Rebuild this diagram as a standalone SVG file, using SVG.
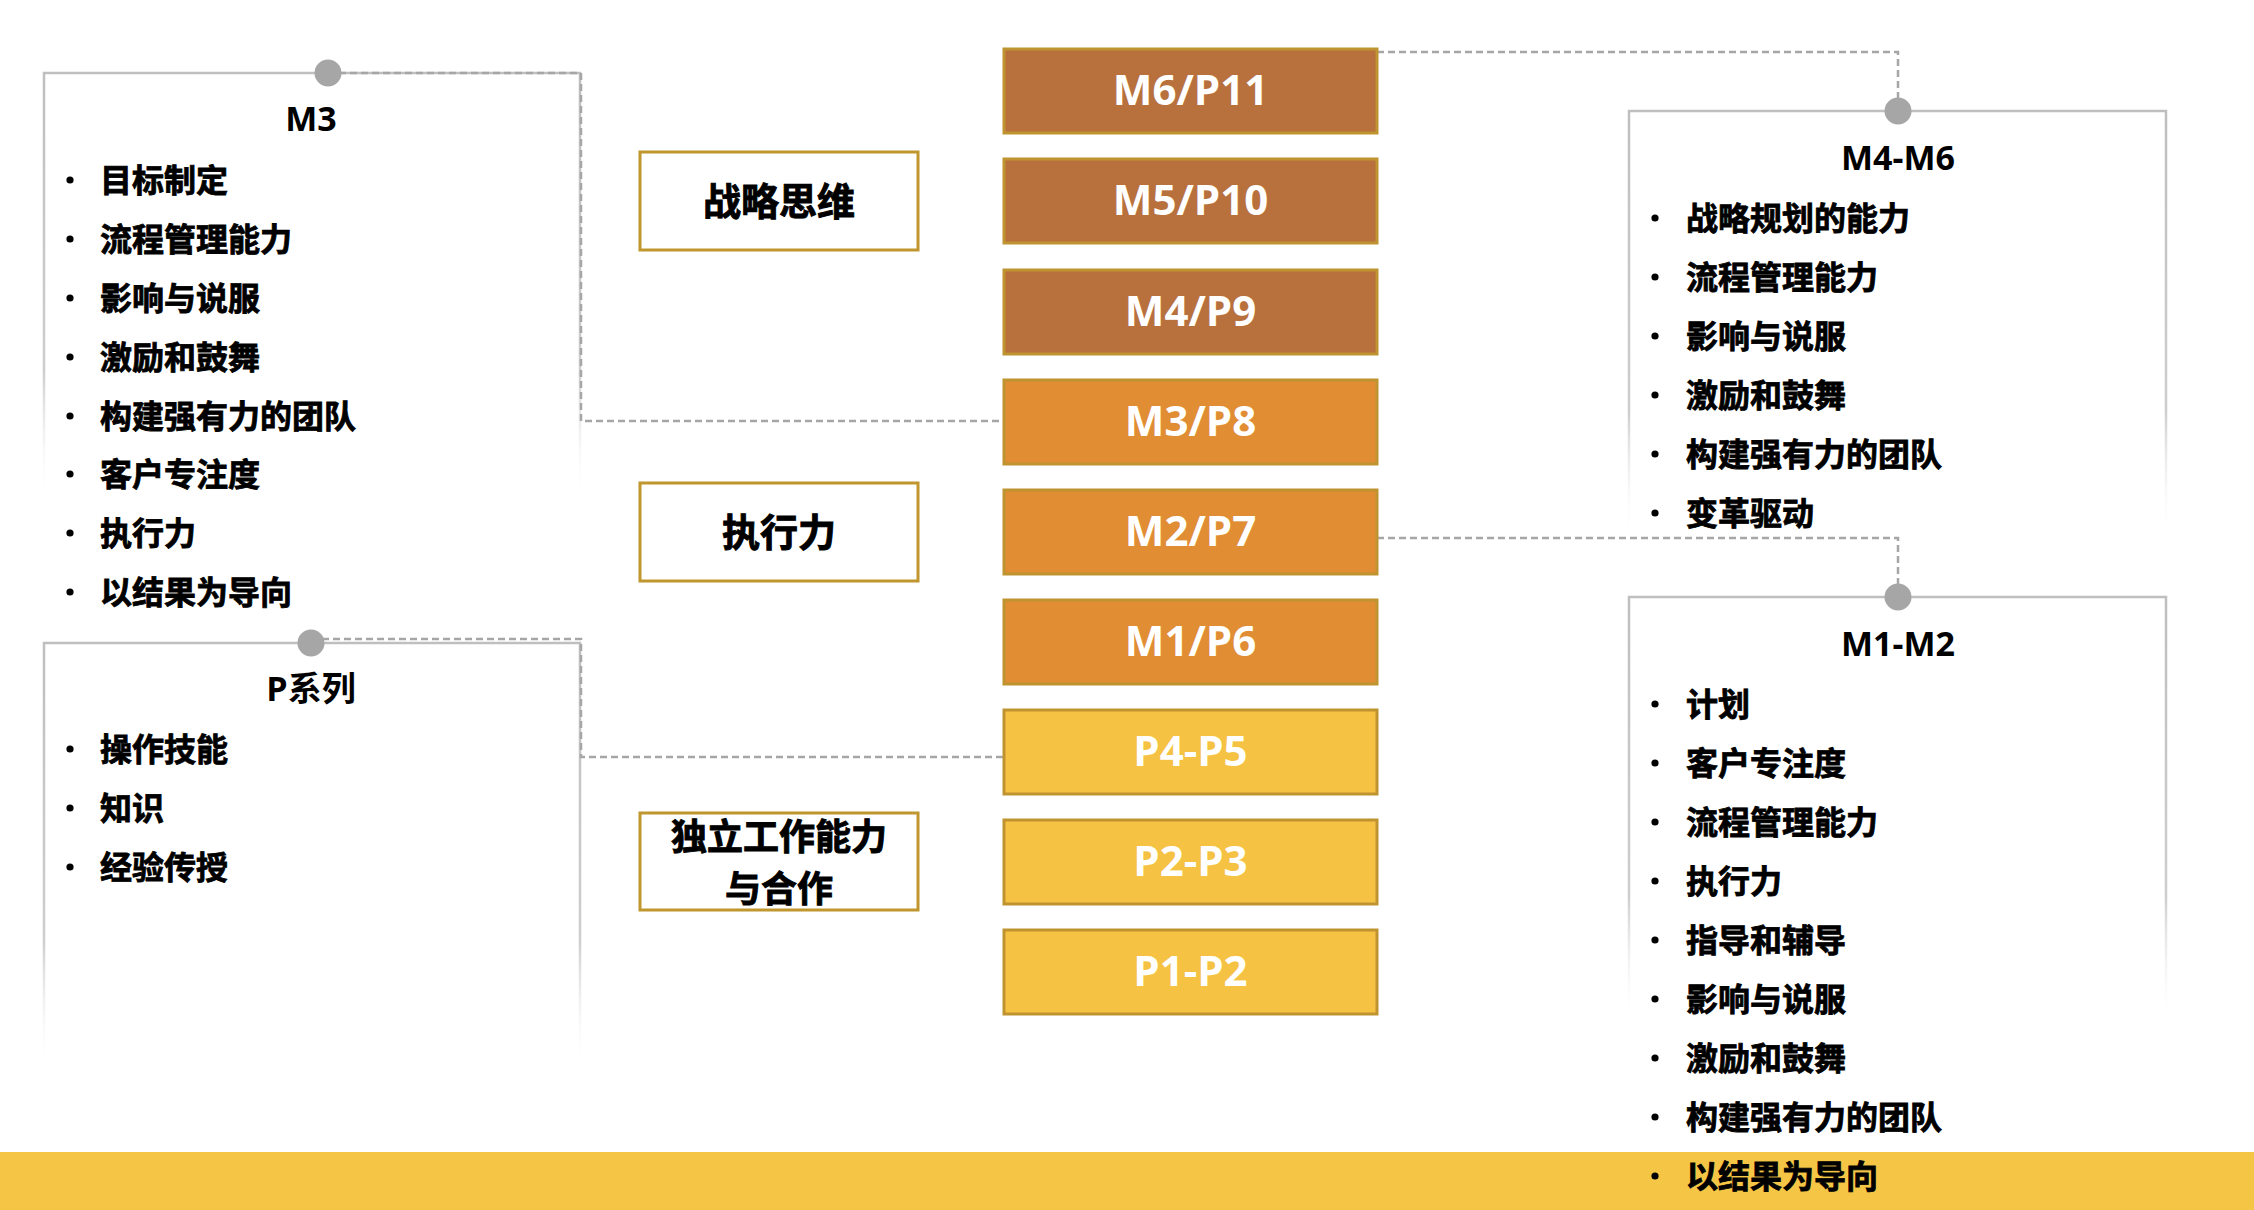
<svg xmlns="http://www.w3.org/2000/svg" width="2254" height="1210" viewBox="0 0 2254 1210">
  <defs>
    <linearGradient id="fade" x1="0" y1="0" x2="0" y2="1">
      <stop offset="0" stop-color="#BFBFBF" stop-opacity="1"/>
      <stop offset="0.7" stop-color="#C8C8C8" stop-opacity="0.9"/>
      <stop offset="1" stop-color="#FFFFFF" stop-opacity="0"/>
    </linearGradient>
    <style>
      .frame { fill: none; stroke: url(#fade); stroke-width: 2.5; }
      .dot { fill: #A6A6A6; }
      .conn { fill: none; stroke: #A6A6A6; stroke-width: 2.5; stroke-dasharray: 7 4; }
      .lvl { stroke: #BF9430; stroke-width: 3; }
      .brown { fill: #B8713D; }
      .orange { fill: #E08D34; }
      .yellow { fill: #F5C243; }
      .lvltext { font-family: "Open Sans", "Noto Sans CJK SC", sans-serif; font-weight: 700; font-size: 42px; fill: #FFFFFF; text-anchor: middle; }
      .cat { fill: #FFFFFF; stroke: #C0962E; stroke-width: 3; }
      .cattext { font-family: "Noto Sans CJK SC", sans-serif; font-weight: 700; font-size: 38px; fill: #000000; stroke: #000000; stroke-width: 0.9; text-anchor: middle; }
      .cattext2 { font-family: "Noto Sans CJK SC", sans-serif; font-weight: 700; font-size: 36px; fill: #000000; stroke: #000000; stroke-width: 0.9; text-anchor: middle; }
      .title { font-family: "Open Sans", "Noto Sans CJK SC", sans-serif; font-weight: 700; font-size: 34px; fill: #000000; text-anchor: middle; }
      .item { font-family: "Noto Sans CJK SC", sans-serif; font-weight: 700; font-size: 32px; fill: #000000; stroke: #000000; stroke-width: 0.8; }
      .bullet { fill: #000000; }
    </style>
  </defs>

  <rect x="0" y="0" width="2254" height="1210" fill="#FFFFFF"/>
  <rect id="band" x="0" y="1152" width="2254" height="58" fill="#F5C646"/>

  <!-- Frames (fading borders) -->
  <g id="frame-m3">
    <path class="frame" d="M44,500 L44,73 L580,73 L580,500"/>
  </g>
  <g id="frame-p">
    <path class="frame" d="M44,1070 L44,643 L580,643 L580,1070"/>
  </g>
  <g id="frame-m4m6">
    <path class="frame" d="M1629,540 L1629,111 L2166,111 L2166,540"/>
  </g>
  <g id="frame-m1m2">
    <path class="frame" d="M1629,1025 L1629,597 L2166,597 L2166,1025"/>
  </g>

  <!-- Connectors -->
  <g id="connectors">
    <path class="conn" d="M328,73 L581,73 L581,421 L1003,421"/>
    <path class="conn" d="M311,639 L581,639 L581,757 L1003,757"/>
    <path class="conn" d="M1377,52 L1898,52 L1898,111"/>
    <path class="conn" d="M1377,538 L1898,538 L1898,597"/>
  </g>

  <!-- Connector end dots -->
  <circle class="dot" cx="328" cy="73" r="13.5"/>
  <circle class="dot" cx="311" cy="643" r="13.5"/>
  <circle class="dot" cx="1898" cy="111" r="13.5"/>
  <circle class="dot" cx="1898" cy="597" r="13.5"/>

  <!-- M3 list -->
  <g id="list-m3">
    <text class="title" x="311" y="131">M3</text>
    <g class="bullet">
      <circle cx="70" cy="180" r="3.6"/><circle cx="70" cy="239" r="3.6"/><circle cx="70" cy="298" r="3.6"/><circle cx="70" cy="357" r="3.6"/>
      <circle cx="70" cy="416" r="3.6"/><circle cx="70" cy="474" r="3.6"/><circle cx="70" cy="533" r="3.6"/><circle cx="70" cy="592" r="3.6"/>
    </g>
    <text class="item" x="100" y="192">目标制定</text>
    <text class="item" x="100" y="251">流程管理能力</text>
    <text class="item" x="100" y="310">影响与说服</text>
    <text class="item" x="100" y="369">激励和鼓舞</text>
    <text class="item" x="100" y="428">构建强有力的团队</text>
    <text class="item" x="100" y="486">客户专注度</text>
    <text class="item" x="100" y="545">执行力</text>
    <text class="item" x="100" y="604">以结果为导向</text>
  </g>

  <!-- P list -->
  <g id="list-p">
    <text class="title" x="311" y="701">P系列</text>
    <g class="bullet">
      <circle cx="70" cy="749" r="3.6"/><circle cx="70" cy="808" r="3.6"/><circle cx="70" cy="867" r="3.6"/>
    </g>
    <text class="item" x="100" y="761">操作技能</text>
    <text class="item" x="100" y="820">知识</text>
    <text class="item" x="100" y="879">经验传授</text>
  </g>

  <!-- M4-M6 list -->
  <g id="list-m4m6">
    <text class="title" x="1898" y="170">M4-M6</text>
    <g class="bullet">
      <circle cx="1655" cy="218" r="3.6"/><circle cx="1655" cy="277" r="3.6"/><circle cx="1655" cy="336" r="3.6"/>
      <circle cx="1655" cy="395" r="3.6"/><circle cx="1655" cy="454" r="3.6"/><circle cx="1655" cy="513" r="3.6"/>
    </g>
    <text class="item" x="1686" y="230">战略规划的能力</text>
    <text class="item" x="1686" y="289">流程管理能力</text>
    <text class="item" x="1686" y="348">影响与说服</text>
    <text class="item" x="1686" y="407">激励和鼓舞</text>
    <text class="item" x="1686" y="466">构建强有力的团队</text>
    <text class="item" x="1686" y="525">变革驱动</text>
  </g>

  <!-- M1-M2 list -->
  <g id="list-m1m2">
    <text class="title" x="1898" y="656">M1-M2</text>
    <g class="bullet">
      <circle cx="1655" cy="704" r="3.6"/><circle cx="1655" cy="763" r="3.6"/><circle cx="1655" cy="822" r="3.6"/>
      <circle cx="1655" cy="881" r="3.6"/><circle cx="1655" cy="940" r="3.6"/><circle cx="1655" cy="999" r="3.6"/>
      <circle cx="1655" cy="1058" r="3.6"/><circle cx="1655" cy="1117" r="3.6"/><circle cx="1655" cy="1176" r="3.6"/>
    </g>
    <text class="item" x="1686" y="716">计划</text>
    <text class="item" x="1686" y="775">客户专注度</text>
    <text class="item" x="1686" y="834">流程管理能力</text>
    <text class="item" x="1686" y="893">执行力</text>
    <text class="item" x="1686" y="952">指导和辅导</text>
    <text class="item" x="1686" y="1011">影响与说服</text>
    <text class="item" x="1686" y="1070">激励和鼓舞</text>
    <text class="item" x="1686" y="1129">构建强有力的团队</text>
    <text class="item" x="1686" y="1188">以结果为导向</text>
  </g>

  <!-- Category boxes -->
  <g id="cat-strategy">
    <rect class="cat" x="640" y="152" width="278" height="98"/>
    <text class="cattext" x="779" y="215">战略思维</text>
  </g>
  <g id="cat-execution">
    <rect class="cat" x="640" y="483" width="278" height="98"/>
    <text class="cattext" x="779" y="546">执行力</text>
  </g>
  <g id="cat-independent">
    <rect class="cat" x="640" y="813" width="278" height="97"/>
    <text class="cattext2" x="779" y="850">独立工作能力</text>
    <text class="cattext2" x="779" y="902">与合作</text>
  </g>

  <!-- Level boxes -->
  <g id="lvl-m6p11">
    <rect class="lvl brown" x="1004" y="49" width="373" height="84"/>
    <text class="lvltext" x="1190.5" y="105">M6/P11</text>
  </g>
  <g id="lvl-m5p10">
    <rect class="lvl brown" x="1004" y="159" width="373" height="84"/>
    <text class="lvltext" x="1190.5" y="215">M5/P10</text>
  </g>
  <g id="lvl-m4p9">
    <rect class="lvl brown" x="1004" y="270" width="373" height="84"/>
    <text class="lvltext" x="1190.5" y="326">M4/P9</text>
  </g>
  <g id="lvl-m3p8">
    <rect class="lvl orange" x="1004" y="380" width="373" height="84"/>
    <text class="lvltext" x="1190.5" y="436">M3/P8</text>
  </g>
  <g id="lvl-m2p7">
    <rect class="lvl orange" x="1004" y="490" width="373" height="84"/>
    <text class="lvltext" x="1190.5" y="546">M2/P7</text>
  </g>
  <g id="lvl-m1p6">
    <rect class="lvl orange" x="1004" y="600" width="373" height="84"/>
    <text class="lvltext" x="1190.5" y="656">M1/P6</text>
  </g>
  <g id="lvl-p4p5">
    <rect class="lvl yellow" x="1004" y="710" width="373" height="84"/>
    <text class="lvltext" x="1190.5" y="766">P4-P5</text>
  </g>
  <g id="lvl-p2p3">
    <rect class="lvl yellow" x="1004" y="820" width="373" height="84"/>
    <text class="lvltext" x="1190.5" y="876">P2-P3</text>
  </g>
  <g id="lvl-p1p2">
    <rect class="lvl yellow" x="1004" y="930" width="373" height="84"/>
    <text class="lvltext" x="1190.5" y="986">P1-P2</text>
  </g>
</svg>
